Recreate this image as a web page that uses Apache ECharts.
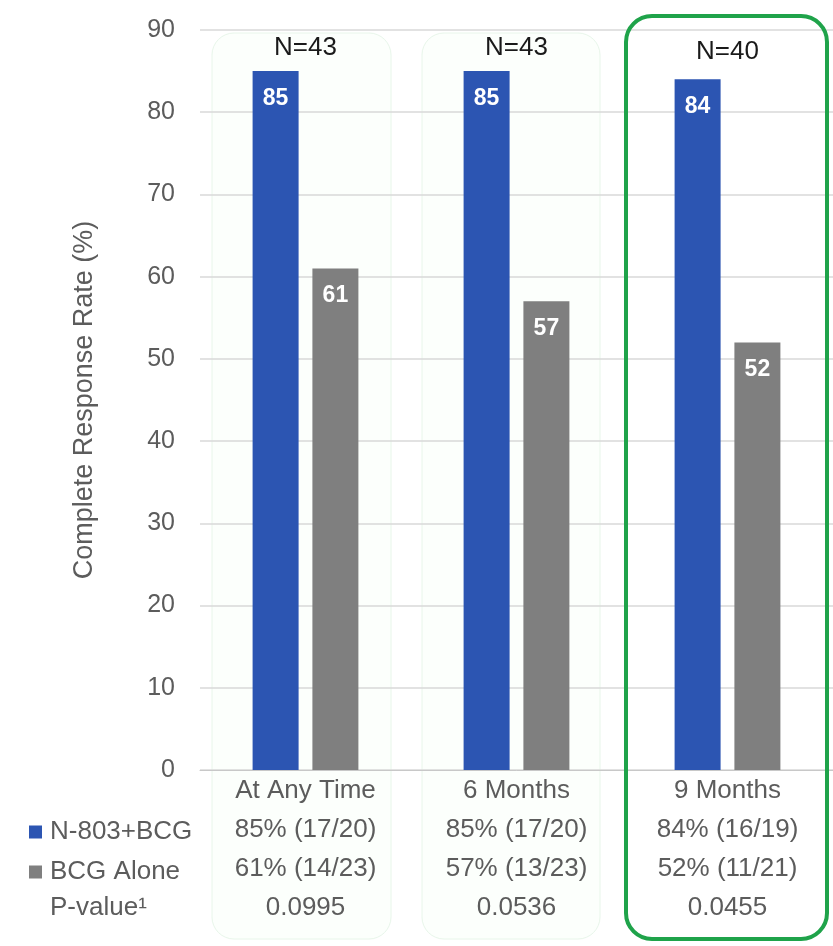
<!DOCTYPE html>
<html>
<head>
<meta charset="utf-8">
<script src="https://cdn.jsdelivr.net/npm/echarts@6/dist/echarts.min.js"></script>
<style>
  html, body { margin: 0; padding: 0; background: #fff; }
  #chart { width: 833px; height: 946px; }
</style>
</head>
<body>
<div id="chart"></div>
<script>
// Time points and group sizes
const categories = ['At Any Time', '6 Months', '9 Months'];
const groupSizes = ['N=43', 'N=43', 'N=40'];

// Complete response rates (%)
const comboRates = [85, 85, 84];
const bcgRates = [61, 57, 52];

// Table rows shown under each time point
const comboText = ['85% (17/20)', '85% (17/20)', '84% (16/19)'];
const bcgText = ['61% (14/23)', '57% (13/23)', '52% (11/21)'];
const pValues = ['0.0995', '0.0536', '0.0455'];

const seriesNames = ['N-803+BCG', 'BCG Alone'];
const yTicks = { min: 0, max: 90, interval: 10 };

const FONT = '"Liberation Sans", Arial, sans-serif';
const BLUE = '#2C55B2';
const GRAY = '#7F7F7F';
const TEXT = '#5c5c5c';

const chart = echarts.init(document.getElementById('chart'));

const bottomLabels = categories.map((c, i) =>
  [c, comboText[i], bcgText[i], pValues[i]].join('\n'));

const option = {
  backgroundColor: '#ffffff',
  textStyle: { fontFamily: FONT },
  animation: false,
  grid: { left: 200, right: 0, top: 30, bottom: 176 },
  legend: {
    data: seriesNames,
    orient: 'vertical',
    left: 24,
    top: 814,
    itemWidth: 13,
    itemHeight: 13,
    itemGap: 14,
    icon: 'rect',
    textStyle: { fontFamily: FONT, fontSize: 26, lineHeight: 26, color: TEXT, padding: [0, 0, 0, 3] },
    selectedMode: false
  },
  graphic: [
    // soft panels behind the first two time points
    { type: 'rect', z: -1, shape: { x: 212, y: 33, width: 179, height: 906, r: 22 },
      style: { fill: 'rgba(250,255,250,0.6)', stroke: '#e8f6ea', lineWidth: 1 } },
    { type: 'rect', z: -1, shape: { x: 422, y: 33, width: 178, height: 906, r: 22 },
      style: { fill: 'rgba(250,255,250,0.6)', stroke: '#e8f6ea', lineWidth: 1 } },
    // highlighted 9-month panel
    { type: 'rect', z: 10, shape: { x: 626, y: 16, width: 201, height: 923, r: 26 },
      style: { fill: 'none', stroke: '#1FA34A', lineWidth: 4 } },
    { type: 'text', left: 50, top: 895,
      style: { text: 'P-value¹', font: '26px ' + FONT, fill: TEXT } }
  ],
  xAxis: [
    {
      type: 'category',
      data: categories,
      position: 'bottom',
      axisLine: { lineStyle: { color: '#c8c8c8', width: 1 } },
      axisTick: { show: false },
      axisLabel: {
        interval: 0,
        margin: 1,
        fontSize: 26,
        lineHeight: 39,
        color: TEXT,
        fontFamily: FONT,
        formatter: (v, i) => bottomLabels[i]
      }
    },
    {
      type: 'category',
      data: groupSizes,
      position: 'top',
      axisLine: { show: false },
      axisTick: { show: false },
      axisLabel: {
        inside: true,
        interval: 0,
        margin: 5,
        fontSize: 26,
        color: '#1a1a1a',
        fontFamily: FONT,
        formatter: (v, i) => i === 2 ? '{s|' + v + '}' : v,
        rich: { s: { fontSize: 26, color: '#1a1a1a', padding: [4, 0, 0, 0], fontFamily: FONT } }
      }
    }
  ],
  yAxis: {
    type: 'value',
    min: yTicks.min,
    max: yTicks.max,
    interval: yTicks.interval,
    name: 'Complete Response Rate (%)',
    nameLocation: 'middle',
    nameGap: 102,
    nameTextStyle: { fontSize: 27, color: TEXT, fontFamily: FONT },
    axisLine: { show: false },
    axisTick: { show: false },
    axisLabel: { fontSize: 25, color: TEXT, margin: 25, fontFamily: FONT },
    splitLine: { lineStyle: { color: '#d9d9d9', width: 1.5 } }
  },
  series: [
    {
      name: seriesNames[0],
      type: 'bar',
      data: comboRates,
      barWidth: 46,
      barGap: '30%',
      itemStyle: { color: BLUE },
      label: {
        show: true, position: 'insideTop', distance: 16,
        color: '#fff', fontWeight: 'bold', fontSize: 23, fontFamily: FONT
      }
    },
    {
      name: seriesNames[1],
      type: 'bar',
      data: bcgRates,
      barWidth: 46,
      itemStyle: { color: GRAY },
      label: {
        show: true, position: 'insideTop', distance: 16,
        color: '#fff', fontWeight: 'bold', fontSize: 23, fontFamily: FONT
      }
    }
  ]
};

chart.setOption(option);
</script>
</body>
</html>
